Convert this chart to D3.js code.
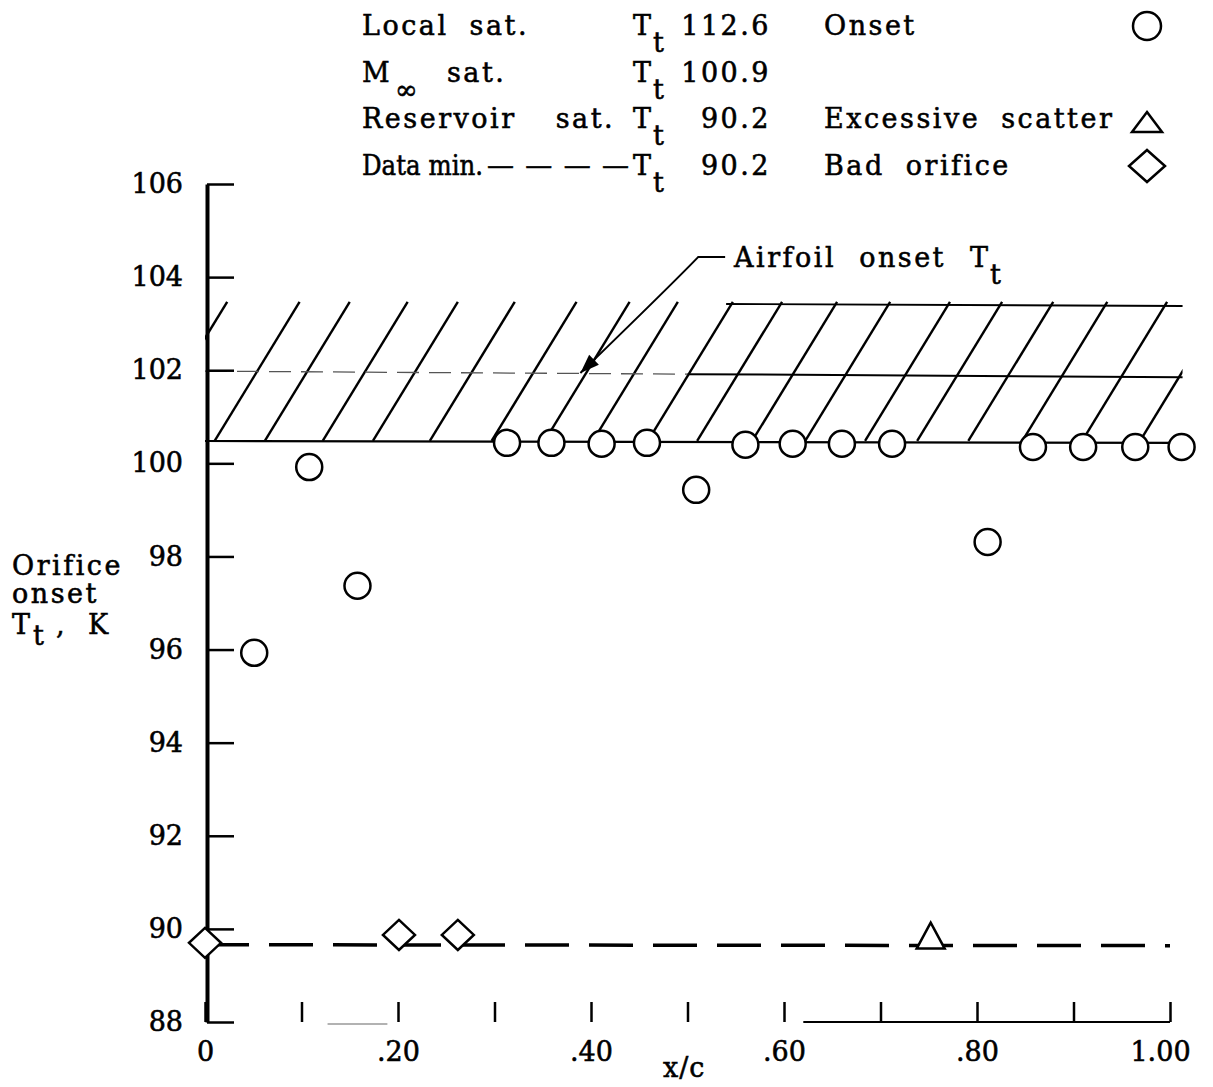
<!DOCTYPE html>
<html>
<head>
<meta charset="utf-8">
<script src="https://cdn.jsdelivr.net/npm/d3@7"></script>
<style>
  html, body { margin: 0; padding: 0; background: #fff; }
  svg { display: block; }
  text { font-family: "DejaVu Serif", "Liberation Serif", serif; fill: #000; stroke: #000; stroke-width: 0.55px; }
</style>
</head>
<body>
<svg id="chart" width="1213" height="1087"></svg>
<script>
// ---------------- data ----------------
const xTicks = [0, 0.1, 0.2, 0.3, 0.4, 0.5, 0.6, 0.7, 0.8, 0.9, 1.0];
const xTickLabels = ["0", "", ".20", "", ".40", "", ".60", "", ".80", "", "1.00"];
const yTicks = [88, 90, 92, 94, 96, 98, 100, 102, 104, 106];

// Onset (circles)
const onsetX = [0.051, 0.108, 0.158, 0.313, 0.359, 0.411, 0.458, 0.509, 0.560, 0.609, 0.660, 0.712, 0.811, 0.858, 0.910, 0.964, 1.012];
const onsetY = [95.93, 99.92, 97.37, 100.44, 100.44, 100.42, 100.44, 99.43, 100.40, 100.42, 100.42, 100.42, 98.31, 100.35, 100.35, 100.35, 100.35];

// Bad orifice (diamonds)
const badX = [0.0, 0.201, 0.262];
const badY = [89.70, 89.87, 89.87];

// Excessive scatter (triangle)
const scatterX = [0.752];
const scatterY = [89.77];

// Data min. dashed level
const dataMinX = [0.0, 1.0];
const dataMinY = [89.66, 89.64];

// Airfoil onset band (hatched)
const bandX = [0.0, 1.013];
const bandBottomY = [100.48, 100.44];
const bandMidY = [101.98, 101.85];
const bandTopY = [103.47, 103.38];
const hatchTopX = [0.023, 0.098, 0.150, 0.210, 0.262, 0.321, 0.385, 0.440, 0.490, 0.547, 0.598, 0.655, 0.710, 0.772, 0.826, 0.879, 0.935, 0.997, 1.057];

// Legend text
const satLabels = ["Local  sat.", "sat.", "Reservoir  sat.", "Data min."];
const satValues = ["112.6", "100.9", "90.2", "90.2"];
const symbolLabels = ["Onset", "", "Excessive  scatter", "Bad  orifice"];

// ---------------- scales ----------------
const svg = d3.select("#chart");
const x = d3.scaleLinear().domain([0, 1]).range([205, 1170]);
const y = d3.scaleLinear().domain([88, 106]).range([1022, 184]);

const FS = 27;
const LS = 2.5;

// ---------------- hatched band ----------------
svg.append("defs").append("clipPath").attr("id", "bandClip")
  .append("rect")
  .attr("x", x(bandX[0])).attr("y", 0)
  .attr("width", x(bandX[1]) - x(bandX[0])).attr("height", 1087);

const hatchDX = 0.088;
const gBand = svg.append("g").attr("clip-path", "url(#bandClip)");
gBand.selectAll("line.hatch").data(hatchTopX).join("line")
  .attr("class", "hatch")
  .attr("x1", d => x(d)).attr("y1", y(bandTopY[0]))
  .attr("x2", d => x(d - hatchDX)).attr("y2", y(bandBottomY[0]))
  .attr("stroke", "#000").attr("stroke-width", 2.4);

// top line (visible on right part)
svg.append("line")
  .attr("x1", x(0.54)).attr("y1", y(d3.interpolate(bandTopY[0], bandTopY[1])(0.54 / bandX[1])))
  .attr("x2", x(bandX[1])).attr("y2", y(bandTopY[1]))
  .attr("stroke", "#000").attr("stroke-width", 1.8);

// middle line: dashed-ish on left, solid on right
const midAt = t => d3.interpolate(bandMidY[0], bandMidY[1])(t / bandX[1]);
svg.append("line")
  .attr("x1", x(0)).attr("y1", y(midAt(0)))
  .attr("x2", x(0.5)).attr("y2", y(midAt(0.5)))
  .attr("stroke", "#555").attr("stroke-width", 1.3)
  .attr("stroke-dasharray", "22,10");
svg.append("line")
  .attr("x1", x(0.5)).attr("y1", y(midAt(0.5)))
  .attr("x2", x(bandX[1])).attr("y2", y(bandMidY[1]))
  .attr("stroke", "#000").attr("stroke-width", 2);

// bottom line
svg.append("line")
  .attr("x1", x(bandX[0])).attr("y1", y(bandBottomY[0]))
  .attr("x2", x(bandX[1])).attr("y2", y(bandBottomY[1]))
  .attr("stroke", "#000").attr("stroke-width", 2.2);

// ---------------- data min dashed line ----------------
svg.append("line")
  .attr("x1", x(dataMinX[0])).attr("y1", y(dataMinY[0]))
  .attr("x2", x(dataMinX[1])).attr("y2", y(dataMinY[1]))
  .attr("stroke", "#000").attr("stroke-width", 3.5)
  .attr("stroke-dasharray", "44,20");

// ---------------- axes ----------------
const yAxis = d3.axisLeft(y).tickValues(yTicks).tickSize(-27).tickSizeOuter(0).tickPadding(24);
const gy = svg.append("g").attr("transform", `translate(${x(0) + 2},0)`).call(yAxis);
gy.select(".domain").attr("stroke", "#000").attr("stroke-width", 4);
gy.selectAll(".tick line").attr("stroke", "#000").attr("stroke-width", 2.5);
gy.selectAll(".tick text").attr("font-size", FS).attr("font-family", "DejaVu Serif").attr("fill", "#000");

const xAxis = d3.axisBottom(x).tickValues(xTicks).tickSize(-20).tickSizeOuter(0).tickPadding(20)
  .tickFormat((d, i) => xTickLabels[i]);
const gx = svg.append("g").attr("transform", `translate(0,${y(88)})`).call(xAxis);
gx.select(".domain").remove();
gx.selectAll(".tick line").attr("stroke", "#000").attr("stroke-width", 2.5);
gx.selectAll(".tick text").attr("font-size", FS).attr("font-family", "DejaVu Serif").attr("fill", "#000")
  .attr("dx", (d, i) => i === xTicks.length - 1 ? -10 : 0);
// visible parts of the baseline
svg.append("line").attr("x1", x(0.62)).attr("x2", x(1.0)).attr("y1", y(88)).attr("y2", y(88))
  .attr("stroke", "#000").attr("stroke-width", 1.8);
svg.append("line").attr("x1", x(0.127)).attr("x2", x(0.189)).attr("y1", y(88) + 2).attr("y2", y(88) + 2)
  .attr("stroke", "#666").attr("stroke-width", 1.2);

// axis titles
svg.append("text").attr("x", 663).attr("y", 1077).attr("font-size", FS).attr("letter-spacing", 1).text("x/c");
const yt = svg.append("g").attr("font-size", FS).attr("letter-spacing", LS);
yt.append("text").attr("x", 12).attr("y", 575).text("Orifice");
yt.append("text").attr("x", 12).attr("y", 603).text("onset");
yt.append("text").attr("x", 12).attr("y", 634).text("T");
yt.append("text").attr("x", 33).attr("y", 645).text("t");
yt.append("text").attr("x", 56).attr("y", 634).text(",");
yt.append("text").attr("x", 88).attr("y", 634).text("K");

// ---------------- markers ----------------
const diamondPath = (cx, cy, hw, hh) => `M${cx},${cy - hh}L${cx + hw},${cy}L${cx},${cy + hh}L${cx - hw},${cy}Z`;
const trianglePath = (cx, cy, hw, up, down) => `M${cx},${cy - up}L${cx + hw},${cy + down}L${cx - hw},${cy + down}Z`;

svg.append("g").selectAll("circle").data(onsetX.map((d, i) => [d, onsetY[i]])).join("circle")
  .attr("cx", d => x(d[0])).attr("cy", d => y(d[1])).attr("r", 13)
  .attr("fill", "#fff").attr("stroke", "#000").attr("stroke-width", 2.5);

svg.append("g").selectAll("path").data(badX.map((d, i) => [d, badY[i]])).join("path")
  .attr("d", d => diamondPath(x(d[0]), y(d[1]), 16, 15))
  .attr("fill", "#fff").attr("stroke", "#000").attr("stroke-width", 2.5);

svg.append("g").selectAll("path").data(scatterX.map((d, i) => [d, scatterY[i]])).join("path")
  .attr("d", d => trianglePath(x(d[0]), y(d[1]), 14, 17, 9))
  .attr("fill", "#fff").attr("stroke", "#000").attr("stroke-width", 2.5);

// ---------------- annotation ----------------
const p0 = [x(0.539), y(104.43)];
const p1 = [x(0.511), y(104.43)];
const pc = [x(0.483), y(103.83)];
const pt = [x(0.389), y(101.94)];
const ap = d3.path();
ap.moveTo(p0[0], p0[1]);
ap.lineTo(p1[0], p1[1]);
ap.quadraticCurveTo(pc[0], pc[1], pt[0], pt[1]);
svg.append("path").attr("d", ap.toString()).attr("fill", "none").attr("stroke", "#000").attr("stroke-width", 2);
{
  const dx = pt[0] - pc[0], dy = pt[1] - pc[1];
  const L = Math.hypot(dx, dy), ux = dx / L, uy = dy / L;
  const len = 19, hw = 7;
  const bx = pt[0] - ux * len, by = pt[1] - uy * len;
  svg.append("path")
    .attr("d", `M${pt[0]},${pt[1]}L${bx - uy * hw},${by + ux * hw}L${bx + uy * hw},${by - ux * hw}Z`)
    .attr("fill", "#000");
}
const ann = svg.append("g").attr("font-size", FS).attr("letter-spacing", LS);
ann.append("text").attr("x", 734).attr("y", 267).attr("word-spacing", 12).text("Airfoil onset");
ann.append("text").attr("x", 970).attr("y", 267).text("T");
ann.append("text").attr("x", 990).attr("y", 284).text("t");

// ---------------- legend ----------------
const rowY = [35, 82, 128, 175];
const lg = svg.append("g").attr("font-size", FS).attr("letter-spacing", LS);
rowY.forEach((ry, i) => {
  if (i === 1) {
    lg.append("text").attr("x", 362).attr("y", ry).text("M");
    lg.append("text").attr("x", 395).attr("y", ry + 17).attr("letter-spacing", 0).text("\u221E");
    lg.append("text").attr("x", 447).attr("y", ry).text(satLabels[i]);
  } else if (i === 3) {
    lg.append("text").attr("x", 362).attr("y", ry).attr("letter-spacing", 0)
      .attr("textLength", 121).attr("lengthAdjust", "spacingAndGlyphs").text(satLabels[i]);
  } else {
    lg.append("text").attr("x", 362).attr("y", ry).attr("word-spacing", i === 2 ? 28 : 10).text(satLabels[i]);
  }
  lg.append("text").attr("x", 633).attr("y", ry).text("T");
  lg.append("text").attr("x", 653).attr("y", ry + 17).text("t");
  lg.append("text").attr("x", 771).attr("y", ry).attr("text-anchor", "end").text(satValues[i]);
  if (symbolLabels[i]) {
    lg.append("text").attr("x", 824).attr("y", ry).attr("word-spacing", 10).text(symbolLabels[i]);
  }
});
lg.append("text").attr("x", 487).attr("y", rowY[3]).attr("letter-spacing", 0)
  .attr("textLength", 142).attr("lengthAdjust", "spacing").text("\u2014\u2014\u2014\u2014");

svg.append("circle").attr("cx", 1147).attr("cy", 26).attr("r", 14)
  .attr("fill", "#fff").attr("stroke", "#000").attr("stroke-width", 2.5);
svg.append("path").attr("d", trianglePath(1147, 125, 15, 13, 7))
  .attr("fill", "#fff").attr("stroke", "#000").attr("stroke-width", 2.5);
svg.append("path").attr("d", diamondPath(1147, 166, 18, 16))
  .attr("fill", "#fff").attr("stroke", "#000").attr("stroke-width", 2.5);
</script>
</body>
</html>
